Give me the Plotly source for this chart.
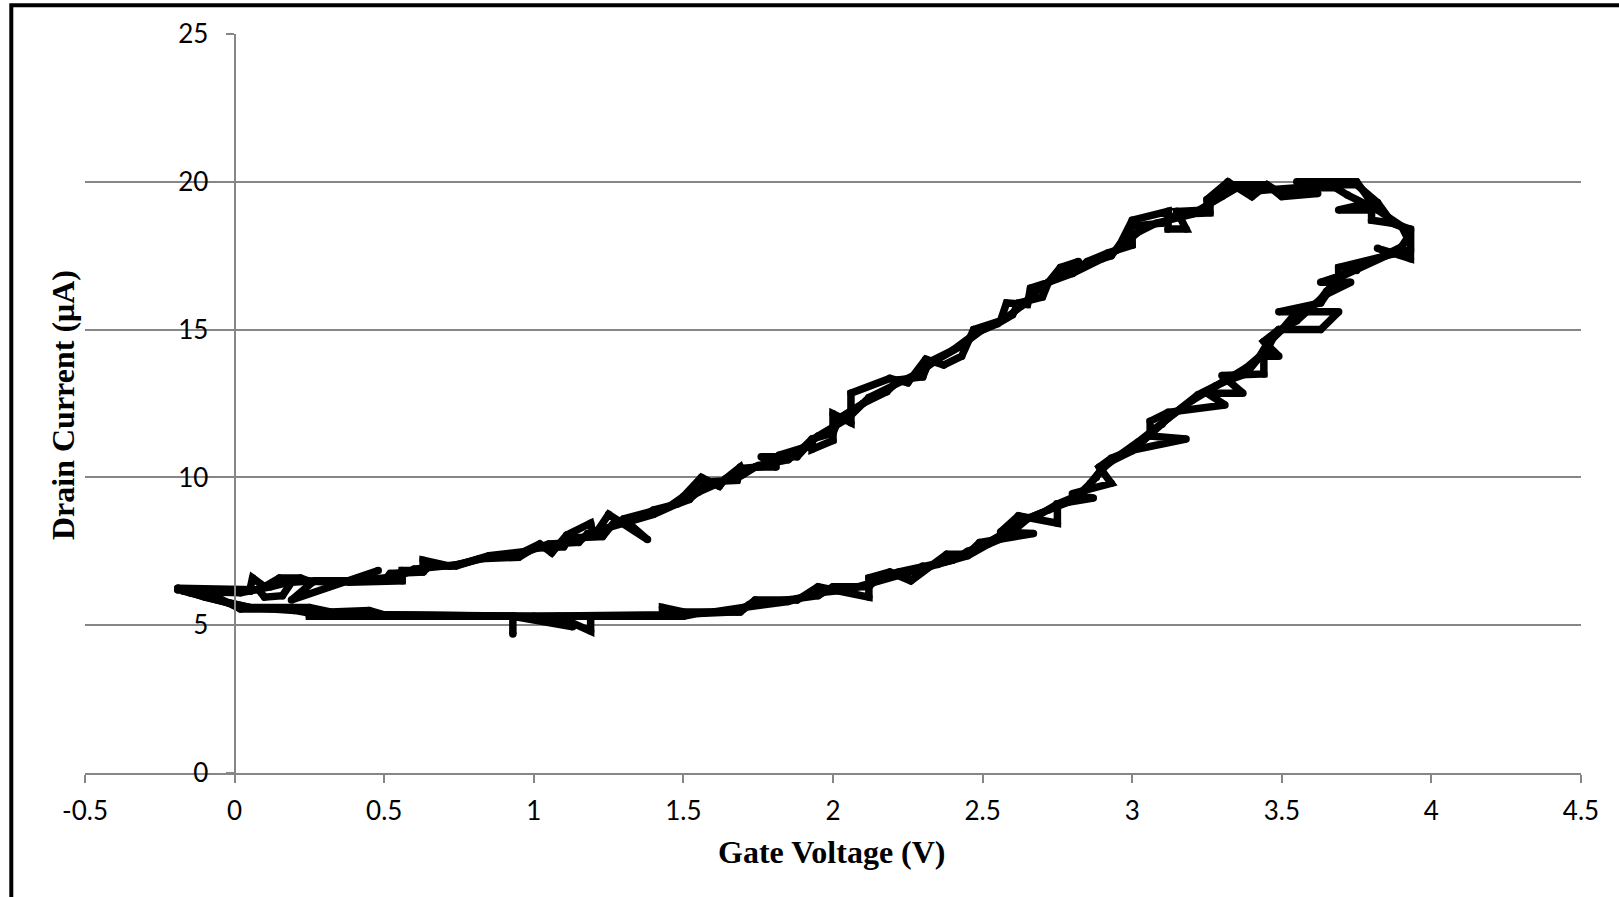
import plotly.graph_objects as go

# ---- data ----
# sweep 1 : upper branch (forward) then lower branch (return)
gate_voltage_sweep1 = [
    -0.19, 0.08, 0.10, 0.16, 0.19, 0.27, 0.50, 0.52, 0.63, 0.65, 0.74, 0.82, 0.95, 1.00,
    1.10, 1.12, 1.23, 1.27, 1.36, 1.40, 1.48, 1.52, 1.58, 1.68, 1.69, 1.80, 1.82, 1.90,
    1.93, 2.00, 2.02, 2.10, 2.18, 2.22, 2.30, 2.32, 2.40, 2.48, 2.55, 2.60, 2.62, 2.70,
    2.72, 2.80, 2.85, 2.92, 3.00, 3.00, 3.10, 3.15, 3.26, 3.26, 3.32, 3.45, 3.50, 3.58,
    3.60, 3.75, 3.82, 3.87, 3.93, 3.93,
    3.87, 3.75, 3.70, 3.65, 3.62, 3.55, 3.50, 3.45, 3.42, 3.38, 3.30, 3.22, 3.16, 3.10,
    3.02, 2.95, 2.90, 2.86, 2.82, 2.75, 2.70, 2.62, 2.57, 2.50, 2.45, 2.40, 2.30, 2.22,
    2.15, 2.12, 2.00, 1.95, 1.88, 1.80, 1.72, 1.68, 1.55, 1.50, 0.25, 0.25, 0.02, -0.05,
    -0.15,
]
drain_current_sweep1 = [
    6.25, 6.20, 5.95, 6.00, 6.45, 6.50, 6.50, 6.75, 6.80, 7.00, 7.00, 7.25, 7.30, 7.60,
    7.65, 7.95, 8.00, 8.50, 8.65, 8.90, 9.10, 9.25, 9.85, 9.90, 10.30, 10.40, 10.75, 11.00,
    11.30, 11.50, 12.00, 12.50, 12.90, 13.30, 13.40, 13.90, 14.30, 14.90, 15.20, 15.50, 15.90, 16.10,
    16.60, 16.90, 17.30, 17.60, 17.85, 18.50, 18.60, 18.90, 18.95, 19.30, 19.90, 19.90, 19.60, 19.60,
    19.90, 19.90, 19.30, 18.60, 18.35, 17.70,
    17.60, 17.00, 16.80, 16.30, 15.90, 15.60, 15.00, 14.50, 14.00, 13.50, 13.20, 12.80, 12.30, 11.80,
    11.20, 10.70, 10.30, 9.80, 9.40, 9.10, 8.80, 8.50, 8.10, 7.70, 7.50, 7.20, 7.00, 6.80,
    6.60, 6.30, 6.30, 6.00, 5.90, 5.80, 5.70, 5.45, 5.40, 5.30, 5.30, 5.55, 5.55, 5.90,
    6.10,
]

# sweep 2 : repeated cycle with the noisy excursions
gate_voltage_sweep2 = [
    -0.19, 0.05, 0.06, 0.10, 0.15, 0.22, 0.26, 0.19, 0.48, 0.38, 0.56, 0.56, 0.63, 0.63,
    0.72, 0.85, 0.94, 1.02, 1.06, 1.11, 1.19, 1.20, 1.25, 1.38, 1.30, 1.45, 1.50, 1.56,
    1.62, 1.64, 1.69, 1.70, 1.74, 1.81, 1.76, 1.88, 1.93, 1.93, 2.00, 2.00, 2.06, 2.06,
    2.19, 2.25, 2.31, 2.37, 2.43, 2.47, 2.56, 2.58, 2.65, 2.66, 2.72, 2.76, 2.82, 2.80,
    2.90, 2.93, 2.96, 3.00, 3.12, 3.12, 3.18, 3.15, 3.25, 3.25, 3.32, 3.40, 3.45, 3.50,
    3.62, 3.55, 3.75, 3.80, 3.69, 3.80, 3.80, 3.87, 3.93, 3.93, 3.82, 3.87, 3.69, 3.69,
    3.63, 3.73, 3.65, 3.63, 3.49, 3.69, 3.63, 3.49, 3.44, 3.49, 3.44, 3.44, 3.30, 3.37,
    3.25, 3.31, 3.12, 3.06, 3.06, 3.18, 2.99, 2.93, 2.89, 2.93, 2.80, 2.87, 2.75, 2.75,
    2.62, 2.56, 2.67, 2.49, 2.45, 2.38, 2.26, 2.19, 2.12, 2.12, 1.95, 1.88, 1.74, 1.69,
    1.50, 1.43, 1.43, 1.19, 1.19, 1.08, 1.13, 0.93, 0.93, 0.93, 0.50, 0.45, 0.32, 0.25,
    0.05, -0.02, -0.19,
]
drain_current_sweep2 = [
    6.20, 6.15, 6.60, 6.30, 6.60, 6.60, 6.45, 5.85, 6.85, 6.45, 6.50, 6.85, 6.85, 7.20,
    7.00, 7.30, 7.35, 7.75, 7.45, 8.05, 8.45, 8.00, 8.75, 7.90, 8.60, 9.00, 9.35, 10.00,
    9.70, 9.95, 10.35, 10.10, 10.35, 10.35, 10.70, 10.70, 11.25, 10.95, 11.25, 12.15, 11.85, 12.85,
    13.35, 13.20, 14.00, 13.80, 14.10, 15.00, 15.30, 15.90, 15.85, 16.40, 16.60, 17.10, 17.30, 16.90,
    17.40, 17.50, 17.90, 18.70, 19.00, 18.40, 18.40, 19.00, 19.05, 19.40, 20.00, 19.50, 19.90, 19.50,
    19.60, 20.00, 20.00, 19.30, 19.05, 19.05, 18.70, 18.60, 18.40, 17.40, 17.75, 17.55, 17.10, 16.80,
    16.60, 16.60, 16.20, 15.90, 15.60, 15.60, 15.00, 15.00, 14.60, 14.10, 14.10, 13.50, 13.45, 12.85,
    12.85, 12.45, 12.20, 11.90, 11.40, 11.30, 10.90, 10.65, 10.35, 9.80, 9.45, 9.30, 9.10, 8.45,
    8.70, 8.15, 8.10, 7.80, 7.40, 7.40, 6.50, 6.80, 6.60, 5.95, 6.30, 5.85, 5.85, 5.45,
    5.45, 5.60, 5.30, 5.30, 4.80, 5.30, 4.95, 5.30, 4.70, 5.30, 5.35, 5.50, 5.45, 5.60,
    5.60, 5.75, 6.20,
]

# sweep 3 : a further, smoother cycle lying along the same loop
gate_voltage_sweep3 = [
    -0.17, 0.02, 0.12, 0.20, 0.35, 0.45, 0.55, 0.60, 0.75, 0.85, 0.98, 1.05, 1.15, 1.18,
    1.30, 1.40, 1.50, 1.55, 1.65, 1.75, 1.85, 1.95, 2.05, 2.12, 2.20, 2.28, 2.35, 2.42,
    2.50, 2.58, 2.63, 2.68, 2.75, 2.85, 2.95, 3.02, 3.08, 3.20, 3.30, 3.35, 3.42, 3.55,
    3.68, 3.72, 3.82, 3.90, 3.92, 3.90,
    3.80, 3.72, 3.68, 3.60, 3.55, 3.48, 3.45, 3.38, 3.28, 3.20, 3.12, 3.05, 3.00, 2.92,
    2.88, 2.82, 2.72, 2.65, 2.58, 2.52, 2.45, 2.35, 2.25, 2.15, 2.05, 1.95, 1.85, 1.70,
    1.60, 1.45, 1.00, 0.50, 0.28, 0.20, 0.05, -0.10, -0.19,
]
drain_current_sweep3 = [
    6.15, 6.10, 6.30, 6.50, 6.45, 6.55, 6.65, 6.90, 7.05, 7.35, 7.50, 7.75, 7.80, 8.10,
    8.45, 8.75, 9.20, 9.50, 9.95, 10.40, 10.60, 11.40, 12.00, 12.70, 13.10, 13.50, 14.00, 14.40,
    15.00, 15.40, 15.80, 16.30, 16.80, 17.20, 17.70, 18.30, 18.60, 18.90, 19.50, 19.80, 19.70, 19.80,
    19.80, 19.55, 19.05, 18.50, 18.10, 17.80,
    17.30, 17.05, 16.50, 15.80, 15.30, 14.90, 14.30, 13.70, 13.10, 12.60, 12.00, 11.40, 10.90, 10.50,
    10.00, 9.30, 8.90, 8.60, 8.00, 7.75, 7.35, 7.05, 6.75, 6.50, 6.20, 6.10, 5.80, 5.60,
    5.45, 5.35, 5.30, 5.35, 5.35, 5.50, 5.60, 5.95, 6.25,
]

x_ticks = [-0.5, 0, 0.5, 1, 1.5, 2, 2.5, 3, 3.5, 4, 4.5]
x_tick_labels = ["-0.5", "0", "0.5", "1", "1.5", "2", "2.5", "3", "3.5", "4", "4.5"]
y_ticks = [0, 5, 10, 15, 20, 25]
y_tick_labels = ["0", "5", "10", "15", "20", "25"]

# ---- figure ----
W, H = 1619, 897
PL, PT, PR, PB = 85, 34, 1581, 773          # plot area in page pixels
L, T, R, B = PL, PT, W - PR, H - PB
pw, ph = PR - PL, PB - PT

fig = go.Figure()
for gv, dc in [(gate_voltage_sweep1, drain_current_sweep1),
               (gate_voltage_sweep2, drain_current_sweep2),
               (gate_voltage_sweep3, drain_current_sweep3)]:
    fig.add_trace(go.Scatter(
        x=gv, y=dc, mode="lines+markers",
        line=dict(color="black", width=7.5),
        marker=dict(color="black", size=7.5, line=dict(width=0)),
        showlegend=False, hoverinfo="skip",
    ))

axis_grey = "#868686"
tick_font = dict(family="Lato, Carlito, 'Open Sans', sans-serif", size=26, color="black")

fig.update_layout(
    width=W, height=H,
    margin=dict(l=L, r=R, t=T, b=B, autoexpand=False),
    paper_bgcolor="white", plot_bgcolor="white",
    xaxis=dict(
        range=[-0.5, 4.5], tickvals=x_ticks, ticktext=x_tick_labels,
        showgrid=False, zeroline=False,
        showline=True, linecolor=axis_grey, linewidth=2,
        ticks="outside", ticklen=8, tickwidth=2, tickcolor=axis_grey,
        tickfont=tick_font, ticklabelstandoff=6,
    ),
    yaxis=dict(
        range=[0, 25], tickvals=y_ticks, ticktext=y_tick_labels,
        anchor="free", position=0.1,
        showgrid=True, gridcolor=axis_grey, gridwidth=2,
        zeroline=False,
        showline=True, linecolor=axis_grey, linewidth=2,
        ticks="outside", ticklen=8, tickwidth=2, tickcolor=axis_grey,
        tickfont=tick_font, ticklabelstandoff=12,
    ),
)

title_font = dict(family="'Liberation Serif', 'Times New Roman', serif", size=32, color="black")
fig.add_annotation(
    text="<b>Gate Voltage (V)</b>", xref="paper", yref="paper",
    x=(832 - PL) / pw, y=(PB - 852) / ph, xanchor="center", yanchor="middle",
    showarrow=False, font=title_font,
)
fig.add_annotation(
    text="<b>Drain Current (μA)</b>", xref="paper", yref="paper",
    x=(63 - PL) / pw, y=(PB - 405) / ph, xanchor="center", yanchor="middle",
    textangle=-90, showarrow=False, font=title_font,
)

# outer chart border (cropped at right and bottom in the reference)
fig.add_shape(
    type="rect", xref="paper", yref="paper",
    x0=(11.3 - PL) / pw, x1=(1650 - PL) / pw,
    y0=(PB - 930) / ph, y1=(PB - 5.3) / ph,
    line=dict(color="black", width=4), fillcolor="rgba(0,0,0,0)", layer="above",
)

# remove the default 8px page margin so the figure sits at the window origin
fig.write_html(
    "out.html",
    config={"displayModeBar": False},
    post_script="document.body.style.margin='0';document.body.style.overflow='hidden';",
)
